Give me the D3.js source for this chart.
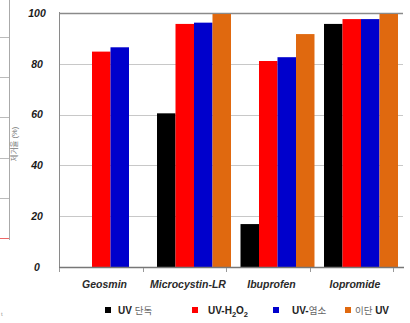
<!DOCTYPE html>
<html>
<head>
<meta charset="utf-8">
<script src="https://cdn.jsdelivr.net/npm/d3@7/dist/d3.min.js"></script>
<style>
  html, body { margin: 0; padding: 0; background: #fff; }
  svg { display: block; }
  text { font-family: "Liberation Sans", Arial, "Noto Sans CJK KR", sans-serif; }
</style>
</head>
<body>
<svg id="chart" width="410" height="323"></svg>
<script>
const categories = ["Geosmin", "Microcystin-LR", "Ibuprofen", "Iopromide"];
const seriesKeys = ["uv", "h2o2", "cl", "two"];
const uvOnly   = [null, 60.5, 16.9, 95.7];
const uvH2O2   = [84.8, 95.7, 81.1, 97.6];
const uvChlor  = [86.5, 96.2, 82.6, 97.6];
const twoStage = [null, 99.6, 91.7, 99.6];
const yTicks = [0, 20, 40, 60, 80, 100];
const seriesColors = ["#000000", "#ff0000", "#0000cc", "#e0690f"];
// neighbouring (cropped) chart fragment at left edge
const fragTicks = [20, 40, 60, 80, 100];

const seriesValues = [uvOnly, uvH2O2, uvChlor, twoStage];
const svg = d3.select("#chart");

// ---- cropped neighbour fragment ----
const fy = d3.scaleLinear().domain([0, 100]).range([238, 37]);
const frag = svg.append("g");
frag.append("line").attr("x1", 9.5).attr("x2", 9.5).attr("y1", 0).attr("y2", 240)
  .attr("stroke", "#aaa").attr("stroke-width", 1);
fragTicks.forEach(t => {
  frag.append("line").attr("x1", 0).attr("x2", 9).attr("y1", Math.round(fy(t)) + 0.5).attr("y2", Math.round(fy(t)) + 0.5)
    .attr("stroke", "#bbb");
});
frag.append("line").attr("x1", 0).attr("x2", 9).attr("y1", 238.5).attr("y2", 238.5)
  .attr("stroke", "#e66").attr("stroke-width", 1);
frag.append("text").attr("transform", "translate(17,144) rotate(-90)")
  .attr("text-anchor", "middle").attr("font-size", 7.5).attr("fill", "#777")
  .text("제거율 (%)");

// ---- main chart ----
const y = d3.scaleLinear().domain([0, 100]).range([267, 13]);
const x = d3.scaleBand().domain(categories).range([68.75, 402.75])
  .paddingInner(0.114).paddingOuter(0.057);
const xs = d3.scaleBand().domain(seriesKeys).range([0, x.bandwidth()]);

// gridlines
svg.append("g").selectAll("line").data(yTicks.filter(t => t > 0)).join("line")
  .attr("x1", 59).attr("x2", 403)
  .attr("y1", d => Math.round(y(d)) + 0.5).attr("y2", d => Math.round(y(d)) + 0.5)
  .attr("stroke", d => d === 100 ? "#8a8a8a" : "#c8c8c8")
  .attr("stroke-width", d => d === 100 ? 1.5 : 1);

// bars
categories.forEach((c, i) => {
  seriesKeys.forEach((k, j) => {
    const v = seriesValues[j][i];
    if (v == null) return;
    svg.append("rect")
      .attr("x", x(c) + xs(k)).attr("width", xs.bandwidth())
      .attr("y", y(v)).attr("height", y(0) - y(v))
      .attr("fill", seriesColors[j]);
  });
});

// axes lines
svg.append("line").attr("x1", 59.5).attr("x2", 59.5).attr("y1", 12).attr("y2", 268)
  .attr("stroke", "#8a8a8a").attr("stroke-width", 1);
svg.append("line").attr("x1", 59).attr("x2", 404).attr("y1", 267.5).attr("y2", 267.5)
  .attr("stroke", "#777").attr("stroke-width", 1.5);

// category ticks
const tickOffset = x.step() * 0.168;
const tickXs = categories.map(c => x(c) - tickOffset).concat([x(categories[3]) + x.step() - tickOffset]);
svg.append("g").selectAll("line").data(tickXs).join("line")
  .attr("x1", d => Math.round(d) + 0.5).attr("x2", d => Math.round(d) + 0.5)
  .attr("y1", 268).attr("y2", 272).attr("stroke", "#999");

// y tick labels
svg.append("g").selectAll("text").data(yTicks).join("text")
  .attr("x", 37).attr("y", d => y(d)).attr("dy", "0.36em")
  .attr("text-anchor", "middle").attr("font-size", 10.5)
  .attr("font-weight", "bold").attr("font-style", "italic").attr("fill", "#1a1a1a")
  .text(d => d);

// category labels
svg.append("g").selectAll("text").data(categories).join("text")
  .attr("x", d => x(d) + x.bandwidth() / 2 - 6).attr("y", 288)
  .attr("text-anchor", "middle").attr("font-size", 10.5)
  .attr("font-weight", "bold").attr("font-style", "italic").attr("fill", "#2a2a2a")
  .text(d => d);

// legend
const legendX = [105, 192, 273, 345];
const legendTextX = [118, 208, 292, 355];
const lg = svg.append("g");
seriesKeys.forEach((k, j) => {
  lg.append("rect").attr("x", legendX[j]).attr("y", 307).attr("width", 6).attr("height", 6)
    .attr("fill", seriesColors[j]);
});
function addText(xp, parts) {
  const t = lg.append("text").attr("x", xp).attr("y", 314).attr("font-size", 10).attr("fill", "#222");
  parts.forEach(p => {
    const ts = t.append("tspan").text(p.t);
    if (p.bold) ts.attr("font-weight", "bold");
    if (p.light) ts.attr("fill", "#666").attr("font-size", 9.5);
    if (p.sub) ts.attr("font-size", 7.5).attr("dy", 2.5).attr("font-weight", "bold");
    if (p.up) ts.attr("dy", -2.5).attr("font-weight", "bold");
  });
}
addText(legendTextX[0], [{t: "UV ", bold: true}, {t: "단독", light: true}]);
addText(legendTextX[1], [{t: "UV-H", bold: true}, {t: "2", sub: true}, {t: "O", up: true}, {t: "2", sub: true}]);
addText(legendTextX[2], [{t: "UV-", bold: true}, {t: "염소", light: true}]);
addText(legendTextX[3], [{t: "이단 ", light: true}, {t: "UV", bold: true}]);

// stray mark bottom-left
svg.append("text").attr("x", 1).attr("y", 316).attr("font-size", 6).attr("fill", "#999").text("t");
</script>
</body>
</html>
